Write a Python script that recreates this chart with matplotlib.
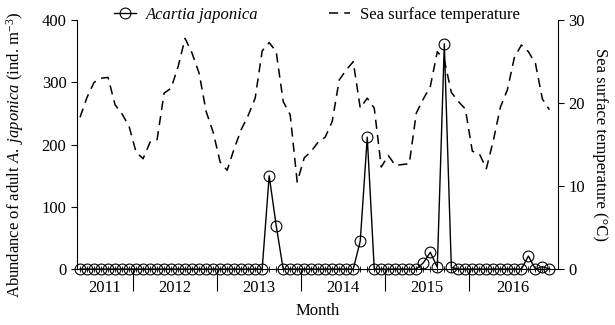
import matplotlib
matplotlib.use("Agg")
import matplotlib.pyplot as plt
import numpy as np

plt.rcParams['font.family'] = ['Liberation Serif', 'DejaVu Serif']
plt.rcParams['mathtext.fontset'] = 'custom'
plt.rcParams['mathtext.rm'] = 'Liberation Serif'
plt.rcParams['mathtext.it'] = 'Liberation Serif:italic'

# Monthly series, May 2011 .. Dec 2016
years = ["2011", "2012", "2013", "2014", "2015", "2016"]
start_month = 5  # May 2011

abundance = [0, 0, 0, 0, 0, 0, 0, 0,            # 2011 May-Dec
             0, 0, 0, 0, 0, 0, 0, 0, 0, 0, 0, 0,  # 2012
             0, 0, 0, 0, 0, 0, 0, 150, 70, 0, 0, 0,  # 2013
             0, 0, 0, 0, 0, 0, 0, 0, 45, 212, 0, 0,  # 2014
             0, 0, 0, 0, 0, 10, 27, 3, 362, 3, 0, 0,  # 2015
             0, 0, 0, 0, 0, 0, 0, 0, 21, 0, 4, 0]     # 2016

sst = [18.3, 20.7, 22.5, 23.0, 23.1, 19.8, 18.7, 17.2,
       14.1, 13.3, 15.3, 15.6, 21.2, 21.8, 24.4, 27.8, 26.0, 23.6, 19.0, 16.5,
       12.9, 11.9, 14.5, 16.8, 18.5, 20.6, 26.3, 27.3, 26.2, 20.2, 18.6, 10.5,
       13.4, 14.2, 15.3, 15.9, 17.8, 22.8, 24.0, 25.0, 19.4, 20.6, 19.4, 12.3,
       13.7, 12.5, 12.6, 12.7, 18.8, 20.5, 22.0, 26.2, 25.2, 21.3, 20.2, 19.3,
       14.2, 13.9, 12.1, 15.5, 19.5, 21.6, 25.5, 27.0, 26.2, 24.8, 20.5, 19.2]

n = len(abundance)
x = np.arange(n)

fig = plt.figure(figsize=(6.15, 3.25), dpi=100)
ax = fig.add_axes([0.125, 0.172, 0.782, 0.766])
ax2 = ax.twinx()

l1, = ax.plot(x, abundance, color='black', lw=1.0, marker='o', ms=7.8,
              mfc='none', mec='black', mew=0.8, clip_on=False, zorder=3,
              label='Acartia japonica')
l2, = ax2.plot(x, sst, color='black', lw=1.1, ls=(0, (6, 4)),
               label='Sea surface temperature')

ax.set_xlim(-0.45, 68.2)
ax.set_ylim(0, 400)
ax2.set_ylim(0, 30)
ax.set_yticks([0, 100, 200, 300, 400])
ax2.set_yticks([0, 10, 20, 30])

for a in (ax, ax2):
    a.spines['top'].set_visible(False)
    a.tick_params(labelsize=12, width=0.8, length=4)
ax2.spines['bottom'].set_visible(False)
ax2.spines['left'].set_visible(False)
ax.spines['right'].set_visible(False)

# year separators as major ticks, months as minor ticks
first_jan = 12 - start_month + 1
seps = [first_jan - 0.5 + 12 * k for k in range(len(years) - 1)]
ax.set_xticks(seps)
ax.set_xticklabels([])
ax.set_xticks(x, minor=True)
ax.tick_params(axis='x', which='major', direction='out', length=16, width=0.8)
ax.tick_params(axis='x', which='minor', direction='inout', length=5, width=0.6)

bounds = [-0.45] + seps + [68.2]
for k, yr in enumerate(years):
    ax.text((bounds[k] + bounds[k + 1]) / 2, -0.075, yr, transform=ax.get_xaxis_transform(),
            ha='center', va='center', fontsize=12)

ax.text(0.5, -0.17, 'Month', transform=ax.transAxes, ha='center', va='center', fontsize=12)

ax.set_ylabel(r'Abundance of adult $\mathit{A.\ japonica}$ (ind. m$^{-3}$)', fontsize=12, labelpad=8)
ax.yaxis.set_label_coords(-0.105, 0.46)
ax2.set_ylabel('Sea surface temperature (\u00b0C)', fontsize=12, rotation=270, labelpad=17)

leg = ax.legend([l1, l2], ['Acartia japonica', 'Sea surface temperature'], ncol=2,
                loc='center', bbox_to_anchor=(0.5, 1.02), frameon=False, fontsize=12,
                handlelength=1.3, handletextpad=0.6, columnspacing=4.2, borderpad=0)
leg.get_texts()[0].set_fontstyle('italic')

fig.savefig('out.png', dpi=100)
